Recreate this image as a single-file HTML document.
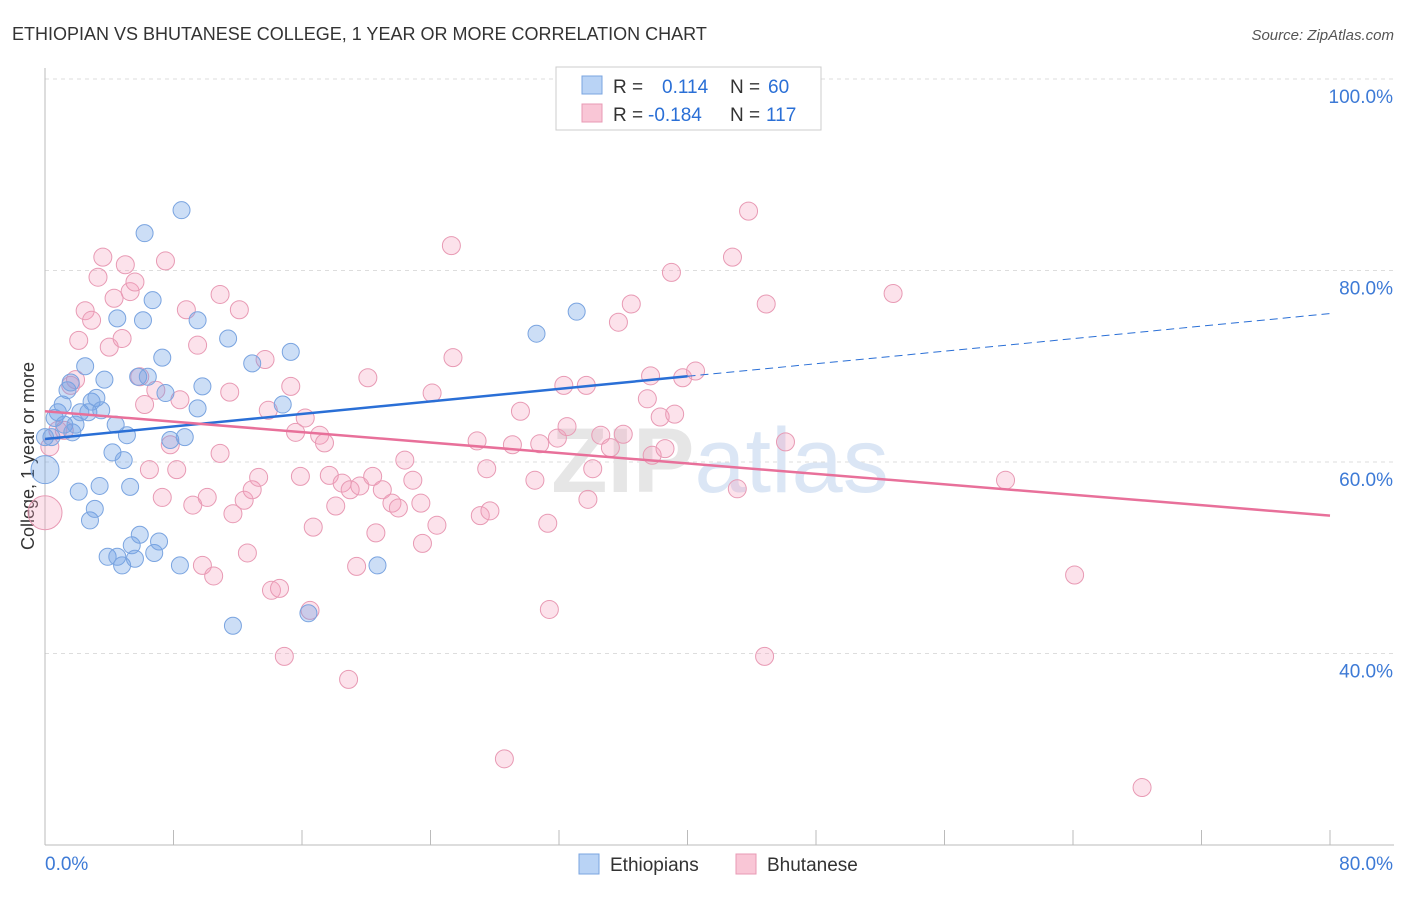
<!DOCTYPE html>
<html><head><meta charset="utf-8"><style>
body{margin:0;background:#fff;font-family:"Liberation Sans",sans-serif;}
svg text{font-family:"Liberation Sans",sans-serif;}
</style></head><body>
<svg id="chart" width="1406" height="892" xmlns="http://www.w3.org/2000/svg">
<text x="12" y="40" font-size="18" fill="#333">ETHIOPIAN VS BHUTANESE COLLEGE, 1 YEAR OR MORE CORRELATION CHART</text>
<text x="1394" y="40" font-size="15" fill="#555" text-anchor="end" font-style="italic">Source: ZipAtlas.com</text>
<text x="34" y="456" font-size="18" fill="#333" text-anchor="middle" transform="rotate(-90 34 456)">College, 1 year or more</text>
<g id="grid"></g>
<g id="axes"></g>
<text x="720" y="492" font-size="92" fill="#e6e6e6" text-anchor="middle" font-weight="bold">ZIP<tspan fill="#dbe6f5" font-weight="normal">atlas</tspan></text>
<g id="pts"></g>
<g id="trends"></g>
<g>
<rect x="556" y="67" width="265" height="63" fill="#fff" stroke="#ccc"/>
<rect x="582" y="76" width="20" height="18" fill="#b9d3f5" stroke="#7aa4e0"/>
<rect x="582" y="104" width="20" height="18" fill="#f9c6d6" stroke="#e89ab4"/>
<text x="613" y="93" font-size="19" fill="#333">R = <tspan x="662" fill="#2a6fd6">0.114</tspan><tspan x="730" fill="#333">N = </tspan><tspan x="768" fill="#2a6fd6">60</tspan></text>
<text x="613" y="121" font-size="19" fill="#333">R = <tspan x="648" fill="#2a6fd6">-0.184</tspan><tspan x="730" fill="#333">N = </tspan><tspan x="766" fill="#2a6fd6">117</tspan></text>
</g>
<g>
<rect x="579" y="854" width="20" height="20" fill="#b9d3f5" stroke="#7aa4e0"/>
<text x="610" y="871" font-size="19" fill="#333">Ethiopians</text>
<rect x="736" y="854" width="20" height="20" fill="#f9c6d6" stroke="#e89ab4"/>
<text x="767" y="871" font-size="19" fill="#333">Bhutanese</text>
</g>
</svg>
<script>
const yTicks=[40,60,80,100];
const xTickCount=10;
const xLabels=["0.0%","80.0%"];
const blueX=[0,0,0.4,0.6,0.8,1.1,1.2,1.4,1.6,1.7,1.9,2.1,2.2,2.5,2.7,2.8,2.9,3.1,3.2,3.4,3.5,3.7,3.9,4.2,4.4,4.5,4.5,4.8,4.9,5.1,5.3,5.4,5.6,5.9,5.8,6.1,6.2,6.4,6.7,6.8,7.1,7.3,7.5,7.8,8.4,8.5,8.7,9.5,9.5,9.8,11.4,11.7,12.9,14.8,15.3,16.4,20.7,30.6,33.1];
const blueY=[59.2,62.6,62.6,64.6,65.2,66.0,63.9,67.5,68.3,63.1,63.9,56.9,65.2,70.0,65.2,53.9,66.3,55.1,66.7,57.5,65.4,68.6,50.1,61.0,63.9,50.1,75.0,49.2,60.2,62.8,57.4,51.3,49.9,52.4,68.9,74.8,83.9,68.9,76.9,50.5,51.7,70.9,67.2,62.3,49.2,86.3,62.6,74.8,65.6,67.9,72.9,42.9,70.3,66.0,71.5,44.2,49.2,73.4,75.7];
const pinkX=[0,0.3,0.8,1.2,1.6,1.9,2.1,2.5,2.9,3.3,3.6,4.0,4.3,4.8,5.0,5.3,5.6,5.9,6.2,6.5,6.9,7.3,7.5,7.8,8.2,8.4,8.8,9.2,9.5,9.8,10.1,10.5,10.9,10.9,11.5,11.7,12.1,12.4,12.6,12.9,13.3,13.7,13.9,14.1,14.6,14.9,15.3,15.6,15.9,16.2,16.5,16.7,17.1,17.4,17.7,18.1,18.5,18.9,19.0,19.4,19.6,20.1,20.4,20.6,21.0,21.6,22.0,22.4,22.9,23.4,23.5,24.1,24.4,25.3,25.4,26.9,27.1,27.5,27.7,28.6,29.1,29.6,30.5,30.8,31.3,31.4,31.9,32.5,32.3,33.7,33.8,34.1,34.6,35.2,35.7,36.0,36.5,37.5,37.7,37.8,38.3,38.6,39.0,39.2,39.7,40.5,42.8,43.1,43.8,44.8,44.9,46.1,52.8,59.8,64.1,68.3];
const pinkY=[54.7,61.6,63.3,63.3,68.0,68.6,72.7,75.8,74.8,79.3,81.4,72.0,77.1,72.9,80.6,77.8,78.8,68.9,66.0,59.2,67.5,56.3,81.0,61.8,59.2,66.5,75.9,55.5,72.2,49.2,56.3,48.1,60.9,77.5,67.3,54.6,75.9,56.0,50.5,57.1,58.4,70.7,65.4,46.6,46.8,39.7,67.9,63.1,58.5,64.6,44.5,53.2,62.8,62.0,58.6,55.4,57.8,37.3,57.1,49.1,57.5,68.8,58.5,52.6,57.1,55.7,55.2,60.2,58.1,55.7,51.5,67.2,53.4,82.6,70.9,62.2,54.4,59.3,54.9,29.0,61.8,65.3,58.1,61.9,53.6,44.6,62.5,63.7,68.0,68.0,56.1,59.3,62.8,61.5,74.6,62.9,76.5,66.6,69.0,60.7,64.7,61.4,79.8,65.0,68.8,69.5,81.4,57.2,86.2,39.7,76.5,62.1,77.6,58.1,48.2,26.0];
const blueTrend=[62.4,75.5]; // y at x=0 and x=80
const pinkTrend=[65.3,54.4];
const blueSolidEnd=40;
const NS="http://www.w3.org/2000/svg";
const xs=v=>45+v*(1285/80);
const ys=v=>79+(100-v)*9.575;
function mk(tag,attrs,parent){const e=document.createElementNS(NS,tag);for(const k in attrs)e.setAttribute(k,attrs[k]);parent.appendChild(e);return e;}
const grid=document.getElementById('grid'),axes=document.getElementById('axes');
yTicks.forEach(t=>{
 const l=mk('line',{x1:45,x2:1394,y1:ys(t),y2:ys(t),stroke:'#ddd','stroke-dasharray':'4,4'},grid);
 
 
 const tx=mk('text',{x:1393,y:ys(t)+24,'font-size':19,fill:'#3d7ad6','text-anchor':'end'},axes);
 tx.textContent=t.toFixed(1)+'%';
 
 
});
mk('line',{x1:45,x2:45,y1:68,y2:845,stroke:'#bbb'},axes);
mk('line',{x1:45,x2:1394,y1:845,y2:845,stroke:'#bbb'},axes);
for(let i=0;i<=xTickCount;i++){const x=xs(i*8);mk('line',{x1:x,x2:x,y1:830,y2:845,stroke:'#bbb'},axes);}
const xl0=mk('text',{x:45,y:870,'font-size':19,fill:'#3d7ad6'},axes);xl0.textContent=xLabels[0];


const xl1=mk('text',{x:1393,y:870,'font-size':19,fill:'#3d7ad6','text-anchor':'end'},axes);xl1.textContent=xLabels[1];


const pts=document.getElementById('pts');
pinkX.forEach((x,i)=>{
 const c=mk('circle',{cx:xs(x),cy:ys(pinkY[i]),r:i===0?17:9,fill:'rgba(244,160,190,0.3)',stroke:'#e89ab4','stroke-width':1},pts);
 
 
});
blueX.forEach((x,i)=>{
 const c=mk('circle',{cx:xs(x),cy:ys(blueY[i]),r:i===0?14:8.5,fill:'rgba(110,160,230,0.35)',stroke:'#7aa4e0','stroke-width':1},pts);
 
 
});
const tr=document.getElementById('trends');
const bAt=x=>blueTrend[0]+(blueTrend[1]-blueTrend[0])*x/80;
const l1=mk('line',{x1:xs(0),y1:ys(bAt(0)),x2:xs(blueSolidEnd),y2:ys(bAt(blueSolidEnd)),stroke:'#2a6fd6','stroke-width':2.5},tr);


const l2=mk('line',{x1:xs(blueSolidEnd),y1:ys(bAt(blueSolidEnd)),x2:xs(80),y2:ys(bAt(80)),stroke:'#2a6fd6','stroke-width':1,'stroke-dasharray':'8,5'},tr);


const l3=mk('line',{x1:xs(0),y1:ys(pinkTrend[0]),x2:xs(80),y2:ys(pinkTrend[1]),stroke:'#e8709a','stroke-width':2.5},tr);


</script>
</body></html>
